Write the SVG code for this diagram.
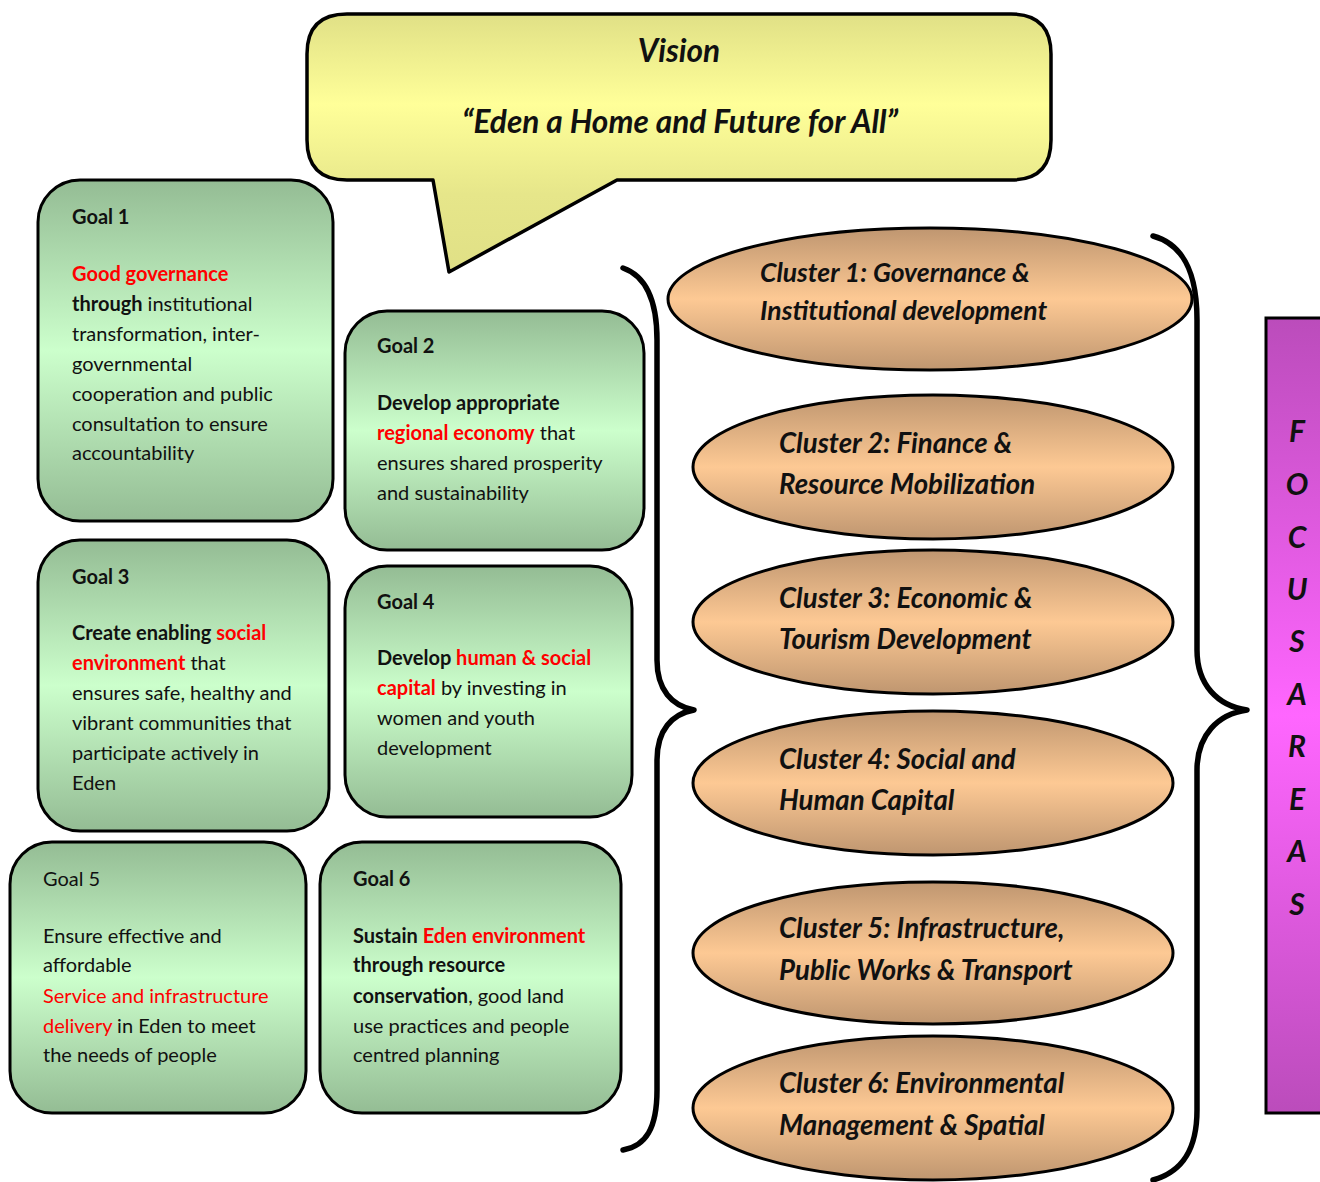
<svg xmlns="http://www.w3.org/2000/svg" width="1320" height="1182" viewBox="0 0 1320 1182">
  <style>
    .t { font-family: Lato, "Open Sans", "Liberation Sans", sans-serif; font-size: 20px; fill: #111; }
    .b { font-weight: bold; }
    .r { fill: #ff0000; }
    .box { stroke: #000; stroke-width: 3; fill: url(#gGreen); }
    .ell { stroke: #000; stroke-width: 3; fill: url(#gPeach); }
    .cl { font-family: Lato, "Open Sans", "Liberation Sans", sans-serif; font-size: 27.6px; font-weight: bold; font-style: italic; fill: #111; }
    .cl1 { font-size: 26.5px; }
    .vis { font-family: Lato, "Open Sans", "Liberation Sans", sans-serif; font-size: 31.6px; font-weight: bold; font-style: italic; fill: #111; text-anchor: middle; }
    .fa { font-family: Lato, "Open Sans", "Liberation Sans", sans-serif; font-size: 30px; font-weight: bold; font-style: italic; fill: #111; text-anchor: middle; }
    .brace { fill: none; stroke: #000; stroke-width: 5.5; stroke-linecap: round; stroke-linejoin: round; }
  </style>
  <defs>
    <linearGradient id="gGreen" x1="0" y1="0" x2="0" y2="1">
      <stop offset="0" stop-color="#94bc94"/>
      <stop offset="0.5" stop-color="#ccffcc"/>
      <stop offset="1" stop-color="#94bc94"/>
    </linearGradient>
    <linearGradient id="gPeach" x1="0" y1="0" x2="0" y2="1">
      <stop offset="0" stop-color="#bf9670"/>
      <stop offset="0.5" stop-color="#fdc994"/>
      <stop offset="1" stop-color="#bf9670"/>
    </linearGradient>
    <linearGradient id="gYellow" x1="0" y1="0" x2="0" y2="1">
      <stop offset="0" stop-color="#e0e086"/>
      <stop offset="0.35" stop-color="#ffff99"/>
      <stop offset="0.7" stop-color="#e6e68a"/>
      <stop offset="1" stop-color="#e0e086"/>
    </linearGradient>
    <linearGradient id="gPurple" x1="0" y1="0" x2="0" y2="1">
      <stop offset="0" stop-color="#bb4cbb"/>
      <stop offset="0.5" stop-color="#ff66ff"/>
      <stop offset="1" stop-color="#bb4cbb"/>
    </linearGradient>
  </defs>

  <!-- Vision callout -->
  <g id="vision">
    <path d="M347,14 H1011 Q1051,14 1051,54 V140 Q1051,180 1011,180 H617 L449,272 L433,180 H347 Q307,180 307,140 V54 Q307,14 347,14 Z" fill="url(#gYellow)" stroke="#000" stroke-width="3.5" stroke-linejoin="round"/>
    <text class="vis" x="679" y="62">Vision</text>
    <text class="vis" x="680" y="133">“Eden a Home and Future for All”</text>
  </g>

  <!-- Goals -->
  <g id="goal1">
    <rect class="box" x="38" y="180" width="295" height="341" rx="42"/>
    <text class="t b" x="72" y="224">Goal 1</text>
    <text class="t" x="72" y="281"><tspan class="b r">Good governance</tspan></text>
    <text class="t" x="72" y="311"><tspan class="b">through</tspan> institutional</text>
    <text class="t" x="72" y="341">transformation, inter-</text>
    <text class="t" x="72" y="371">governmental</text>
    <text class="t" x="72" y="401">cooperation and public</text>
    <text class="t" x="72" y="431">consultation to ensure</text>
    <text class="t" x="72" y="460">accountability</text>
  </g>
  <g id="goal2">
    <rect class="box" x="345" y="311" width="299" height="239" rx="42"/>
    <text class="t b" x="377" y="353">Goal 2</text>
    <text class="t b" x="377" y="410">Develop appropriate</text>
    <text class="t" x="377" y="440"><tspan class="b r">regional economy</tspan> that</text>
    <text class="t" x="377" y="470">ensures shared prosperity</text>
    <text class="t" x="377" y="500">and sustainability</text>
  </g>
  <g id="goal3">
    <rect class="box" x="38" y="540" width="291" height="291" rx="42"/>
    <text class="t b" x="72" y="584">Goal 3</text>
    <text class="t" x="72" y="640"><tspan class="b">Create enabling </tspan><tspan class="b r">social</tspan></text>
    <text class="t" x="72" y="670"><tspan class="b r">environment</tspan> that</text>
    <text class="t" x="72" y="700">ensures safe, healthy and</text>
    <text class="t" x="72" y="730">vibrant communities that</text>
    <text class="t" x="72" y="760">participate actively in</text>
    <text class="t" x="72" y="790">Eden</text>
  </g>
  <g id="goal4">
    <rect class="box" x="345" y="566" width="287" height="251" rx="42"/>
    <text class="t b" x="377" y="609">Goal 4</text>
    <text class="t" x="377" y="665"><tspan class="b">Develop </tspan><tspan class="b r">human &amp; social</tspan></text>
    <text class="t" x="377" y="695"><tspan class="b r">capital</tspan> by investing in</text>
    <text class="t" x="377" y="725">women and youth</text>
    <text class="t" x="377" y="755">development</text>
  </g>
  <g id="goal5">
    <rect class="box" x="10" y="842" width="296" height="271" rx="42"/>
    <text class="t" x="43" y="886">Goal 5</text>
    <text class="t" x="43" y="943">Ensure effective and</text>
    <text class="t" x="43" y="972">affordable</text>
    <text class="t r" x="43" y="1003">Service and infrastructure</text>
    <text class="t" x="43" y="1033"><tspan class="r">delivery</tspan> in Eden to meet</text>
    <text class="t" x="43" y="1062">the needs of people</text>
  </g>
  <g id="goal6">
    <rect class="box" x="320" y="842" width="301" height="271" rx="42"/>
    <text class="t b" x="353" y="886">Goal 6</text>
    <text class="t" x="353" y="943"><tspan class="b">Sustain </tspan><tspan class="b r">Eden environment</tspan></text>
    <text class="t b" x="353" y="972">through resource</text>
    <text class="t" x="353" y="1003"><tspan class="b">conservation</tspan>, good land</text>
    <text class="t" x="353" y="1033">use practices and people</text>
    <text class="t" x="353" y="1062">centred planning</text>
  </g>

  <!-- Braces -->
  <g id="connectors">
    <path class="brace" d="M623,268 C646,276 657,300 657,340 V660 C657,690 672,706 694,710 C672,714 657,730 657,760 V1090 C657,1128 646,1146 623,1150"/>
    <path class="brace" d="M1153,236 C1182,244 1197,270 1197,320 V650 C1197,685 1218,706 1247,710 C1218,714 1197,735 1197,770 V1110 C1197,1150 1182,1172 1153,1180"/>
  </g>

  <!-- Clusters -->
  <g id="cluster1">
    <ellipse class="ell" cx="930" cy="299" rx="262" ry="71"/>
    <text class="cl cl1" x="760" y="282">Cluster 1: Governance &amp;</text>
    <text class="cl cl1" x="760" y="320">Institutional development</text>
  </g>
  <g id="cluster2">
    <ellipse class="ell" cx="933" cy="467" rx="240" ry="72"/>
    <text class="cl" x="779" y="453">Cluster 2: Finance &amp;</text>
    <text class="cl" x="779" y="494">Resource Mobilization</text>
  </g>
  <g id="cluster3">
    <ellipse class="ell" cx="933" cy="622" rx="240" ry="72"/>
    <text class="cl" x="779" y="608">Cluster 3: Economic &amp;</text>
    <text class="cl" x="779" y="649">Tourism Development</text>
  </g>
  <g id="cluster4">
    <ellipse class="ell" cx="933" cy="783" rx="240" ry="72"/>
    <text class="cl" x="779" y="769">Cluster 4: Social and</text>
    <text class="cl" x="779" y="810">Human Capital</text>
  </g>
  <g id="cluster5">
    <ellipse class="ell" cx="933" cy="953" rx="240" ry="71"/>
    <text class="cl" x="779" y="938">Cluster 5: Infrastructure,</text>
    <text class="cl" x="779" y="980">Public Works &amp; Transport</text>
  </g>
  <g id="cluster6">
    <ellipse class="ell" cx="933" cy="1108" rx="240" ry="72"/>
    <text class="cl" x="779" y="1093">Cluster 6: Environmental</text>
    <text class="cl" x="779" y="1135">Management &amp; Spatial</text>
  </g>

  <!-- Focus areas bar -->
  <g id="focus-areas">
    <rect x="1266" y="318" width="60" height="795" fill="url(#gPurple)" stroke="#000" stroke-width="3"/>
    <text class="fa" x="1297" y="442">F</text>
    <text class="fa" x="1297" y="495">O</text>
    <text class="fa" x="1297" y="548">C</text>
    <text class="fa" x="1297" y="600">U</text>
    <text class="fa" x="1297" y="652">S</text>
    <text class="fa" x="1297" y="705">A</text>
    <text class="fa" x="1297" y="757">R</text>
    <text class="fa" x="1297" y="810">E</text>
    <text class="fa" x="1297" y="862">A</text>
    <text class="fa" x="1297" y="915">S</text>
  </g>
</svg>
